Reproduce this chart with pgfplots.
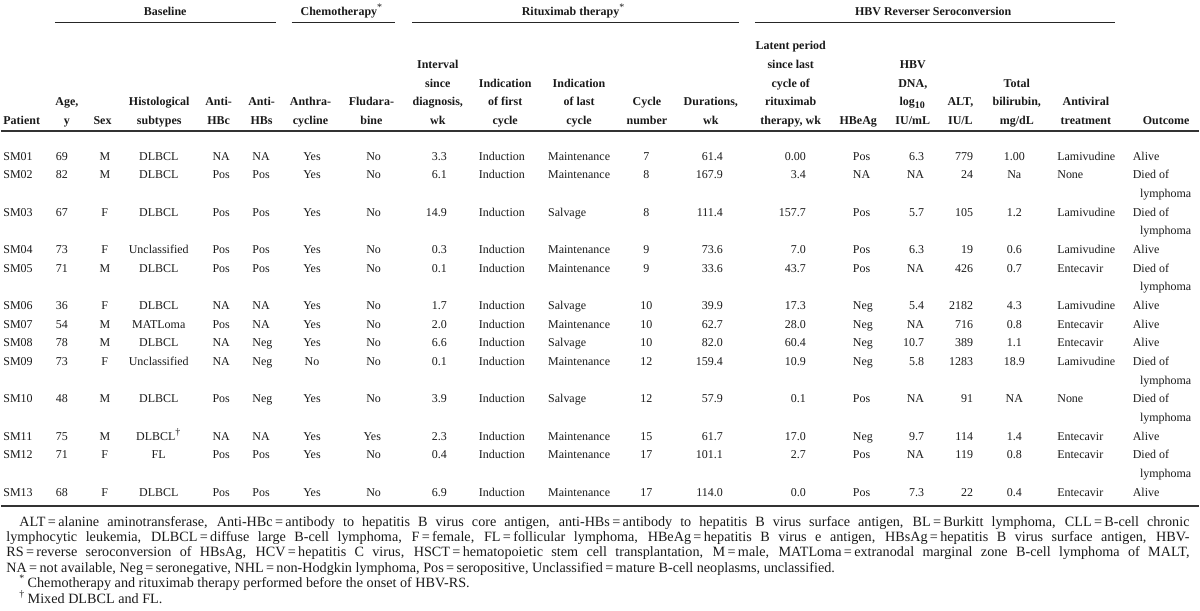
\documentclass[border=0pt]{standalone}
\usepackage{fontspec}
\setmainfont{Liberation Serif}
\usepackage{pgfplots}
\pgfplotsset{compat=1.18}
\definecolor{txt}{HTML}{1A1A1A}
\newcommand\fs{\fontsize{6}{7}\selectfont}
\newcommand\ffs{\fontsize{7.1}{8}\selectfont}
\newcommand\TC[3]{\node[anchor=mid,inner sep=0pt,font=\fs,text=txt] at (axis cs:#1,#2) {#3};}
\newcommand\TL[3]{\node[anchor=mid west,inner sep=0pt,font=\fs,text=txt] at (axis cs:#1,#2) {#3};}
\newcommand\TR[3]{\node[anchor=mid east,inner sep=0pt,font=\fs,text=txt] at (axis cs:#1,#2) {#3};}
\newcommand\HC[3]{\node[anchor=mid,inner sep=0pt,font=\fs\bfseries,text=txt] at (axis cs:#1,#2) {#3};}
\newcommand\HL[3]{\node[anchor=mid west,inner sep=0pt,font=\fs\bfseries,text=txt] at (axis cs:#1,#2) {#3};}
\newcommand\FL[3]{\node[anchor=mid west,inner sep=0pt,font=\ffs,text=txt] at (axis cs:#1,#2) {#3};}
% columns
\newcommand\RowA[9]{\TL{2}{#1}{#2}\TC{61}{#1}{#3}\TC{104}{#1}{#4}\TC{158}{#1}{#5}\TL{211.5}{#1}{#6}\TL{251.5}{#1}{#7}\TC{311.5}{#1}{#8}\TR{381}{#1}{#9}}
\newcommand\RowB[9]{\TR{447}{#1}{#2}\TL{478.3}{#1}{#3}\TL{547.7}{#1}{#4}\TC{646.5}{#1}{#5}\TR{723.5}{#1}{#6}\TR{806.5}{#1}{#7}\TL{853}{#1}{#8}\TR{925}{#1}{#9}}
\newcommand\RowC[5]{\TR{974}{#1}{#2}\TC{1015}{#1}{#3}\TL{1057.7}{#1}{#4}\TL{1133.3}{#1}{#5}}
\newcommand\Ly[1]{\TL{1140.5}{#1}{lymphoma}}
\begin{document}
\begin{tikzpicture}
\begin{axis}[scale only axis, width=600pt, height=306pt,
  xmin=0, xmax=1200, ymin=0, ymax=612, y dir=reverse,
  axis lines=none, ticks=none, clip=false]
\draw[draw=none] (axis cs:0,0) rectangle (axis cs:1200,612);
% rules
\addplot[mark=none, line width=1pt, color=black!80] coordinates {(0,131.7) (1200,131.7)};
\addplot[mark=none, line width=1pt, color=black!80] coordinates {(0,507) (1200,507)};
\addplot[mark=none, line width=0.5pt, color=black!85] coordinates {(54,22.7) (275,22.7)};
\addplot[mark=none, line width=0.5pt, color=black!85] coordinates {(291,22.7) (395,22.7)};
\addplot[mark=none, line width=0.5pt, color=black!85] coordinates {(411.7,22.7) (739,22.7)};
\addplot[mark=none, line width=0.5pt, color=black!85] coordinates {(755,22.7) (1116,22.7)};
% group headers
\HC{164.5}{11}{Baseline}
\HC{341.5}{11}{Chemotherapy\textsuperscript{\normalfont *}}
\HC{573.5}{11}{Rituximab therapy\textsuperscript{\normalfont *}}
\HC{933.7}{11}{HBV Reverser Seroconversion}
% column headers
\HL{2}{120}{Patient}
\HC{66}{101.3}{Age,} \HC{66}{120}{y}
\HC{101.7}{120}{Sex}
\HC{158.5}{101.3}{Histological} \HC{158.5}{120}{subtypes}
\HC{218}{101.3}{Anti-} \HC{218}{120}{HBc}
\HC{261}{101.3}{Anti-} \HC{261}{120}{HBs}
\HC{310}{101.3}{Anthra-} \HC{310}{120}{cycline}
\HC{371}{101.3}{Fludara-} \HC{371}{120}{bine}
\HC{437.5}{64}{Interval} \HC{437.5}{82.7}{since} \HC{437.5}{101.3}{diagnosis,} \HC{437.5}{120}{wk}
\HC{505}{82.7}{Indication} \HC{505}{101.3}{of first} \HC{505}{120}{cycle}
\HC{579}{82.7}{Indication} \HC{579}{101.3}{of last} \HC{579}{120}{cycle}
\HC{647}{101.3}{Cycle} \HC{647}{120}{number}
\HC{711}{101.3}{Durations,} \HC{711}{120}{wk}
\HC{791}{45.3}{Latent period} \HC{791}{64}{since last} \HC{791}{82.7}{cycle of} \HC{791}{101.3}{rituximab} \HC{791}{120}{therapy, wk}
\HC{858.7}{120}{HBeAg}
\HC{913.3}{64}{HBV} \HC{913.3}{82.7}{DNA,} \HC{913.3}{101.3}{log\textsubscript{10}} \HC{913.3}{120}{IU/mL}
\HC{961}{101.3}{ALT,} \HC{961}{120}{IU/L}
\HC{1017.5}{82.7}{Total} \HC{1017.5}{101.3}{bilirubin,} \HC{1017.5}{120}{mg/dL}
\HC{1086.7}{101.3}{Antiviral} \HC{1086.7}{120}{treatment}
\HC{1167}{120}{Outcome}
% data rows
\RowA{155.7}{SM01}{69}{M}{DLBCL}{NA}{NA}{Yes}{No}
\RowB{155.7}{3.3}{Induction}{Maintenance}{7}{61.4}{0.00}{Pos}{6.3}
\RowC{155.7}{779}{1.00}{Lamivudine}{Alive}
\RowA{174.4}{SM02}{82}{M}{DLBCL}{Pos}{Pos}{Yes}{No}
\RowB{174.4}{6.1}{Induction}{Maintenance}{8}{167.9}{3.4}{NA}{NA}
\RowC{174.4}{24}{Na}{None}{Died of}
\Ly{193.1}
\RowA{211.8}{SM03}{67}{F}{DLBCL}{Pos}{Pos}{Yes}{No}
\RowB{211.8}{14.9}{Induction}{Salvage}{8}{111.4}{157.7}{Pos}{5.7}
\RowC{211.8}{105}{1.2}{Lamivudine}{Died of}
\Ly{230.5}
\RowA{249.2}{SM04}{73}{F}{Unclassified}{Pos}{Pos}{Yes}{No}
\RowB{249.2}{0.3}{Induction}{Maintenance}{9}{73.6}{7.0}{Pos}{6.3}
\RowC{249.2}{19}{0.6}{Lamivudine}{Alive}
\RowA{267.9}{SM05}{71}{M}{DLBCL}{Pos}{Pos}{Yes}{No}
\RowB{267.9}{0.1}{Induction}{Maintenance}{9}{33.6}{43.7}{Pos}{NA}
\RowC{267.9}{426}{0.7}{Entecavir}{Died of}
\Ly{286.6}
\RowA{305.3}{SM06}{36}{F}{DLBCL}{NA}{NA}{Yes}{No}
\RowB{305.3}{1.7}{Induction}{Salvage}{10}{39.9}{17.3}{Neg}{5.4}
\RowC{305.3}{2182}{4.3}{Lamivudine}{Alive}
\RowA{324.0}{SM07}{54}{M}{MATLoma}{Pos}{NA}{Yes}{No}
\RowB{324.0}{2.0}{Induction}{Maintenance}{10}{62.7}{28.0}{Neg}{NA}
\RowC{324.0}{716}{0.8}{Entecavir}{Alive}
\RowA{342.7}{SM08}{78}{M}{DLBCL}{NA}{Neg}{Yes}{No}
\RowB{342.7}{6.6}{Induction}{Salvage}{10}{82.0}{60.4}{Neg}{10.7}
\RowC{342.7}{389}{1.1}{Entecavir}{Alive}
\RowA{361.4}{SM09}{73}{F}{Unclassified}{NA}{Neg}{No}{No}
\RowB{361.4}{0.1}{Induction}{Maintenance}{12}{159.4}{10.9}{Neg}{5.8}
\RowC{361.4}{1283}{18.9}{Lamivudine}{Died of}
\Ly{380.1}
\RowA{398.8}{SM10}{48}{M}{DLBCL}{Pos}{Neg}{Yes}{No}
\RowB{398.8}{3.9}{Induction}{Salvage}{12}{57.9}{0.1}{Pos}{NA}
\RowC{398.8}{91}{NA}{None}{Died of}
\Ly{417.5}
\RowA{436.2}{SM11}{75}{M}{DLBCL\textsuperscript{\textdagger}}{NA}{NA}{Yes}{Yes}
\RowB{436.2}{2.3}{Induction}{Maintenance}{15}{61.7}{17.0}{Neg}{9.7}
\RowC{436.2}{114}{1.4}{Entecavir}{Alive}
\RowA{454.9}{SM12}{71}{F}{FL}{Pos}{Pos}{Yes}{No}
\RowB{454.9}{0.4}{Induction}{Maintenance}{17}{101.1}{2.7}{Pos}{NA}
\RowC{454.9}{119}{0.8}{Entecavir}{Died of}
\Ly{473.6}
\RowA{492.3}{SM13}{68}{F}{DLBCL}{Pos}{Pos}{Yes}{No}
\RowB{492.3}{6.9}{Induction}{Maintenance}{17}{114.0}{0.0}{Pos}{7.3}
\RowC{492.3}{22}{0.4}{Entecavir}{Alive}
% footnotes
\FL{18}{522.5}{\makebox[586pt][s]{ALT\,=\,alanine aminotransferase, Anti-HBc\,=\,antibody to hepatitis B virus core antigen, anti-HBs\,=\,antibody to hepatitis B virus surface antigen, BL\,=\,Burkitt lymphoma, CLL\,=\,B-cell chronic}}
\FL{5}{537.9}{\makebox[592.5pt][s]{lymphocytic leukemia, DLBCL\,=\,diffuse large B-cell lymphoma, F\,=\,female, FL\,=\,follicular lymphoma, HBeAg\,=\,hepatitis B virus e antigen, HBsAg\,=\,hepatitis B virus surface antigen, HBV-}}
\FL{5}{553.3}{\makebox[592.5pt][s]{RS\,=\,reverse seroconversion of HBsAg, HCV\,=\,hepatitis C virus, HSCT\,=\,hematopoietic stem cell transplantation, M\,=\,male, MATLoma\,=\,extranodal marginal zone B-cell lymphoma of MALT,}}
\FL{5}{568.7}{NA\,=\,not available, Neg\,=\,seronegative, NHL\,=\,non-Hodgkin lymphoma, Pos\,=\,seropositive, Unclassified\,=\,mature B-cell neoplasms, unclassified.}
\FL{18}{584.1}{\textsuperscript{*}\,Chemotherapy and rituximab therapy performed before the onset of HBV-RS.}
\FL{18}{599.5}{\textsuperscript{\textdagger}\,Mixed DLBCL and FL.}
\end{axis}
\end{tikzpicture}
\end{document}
